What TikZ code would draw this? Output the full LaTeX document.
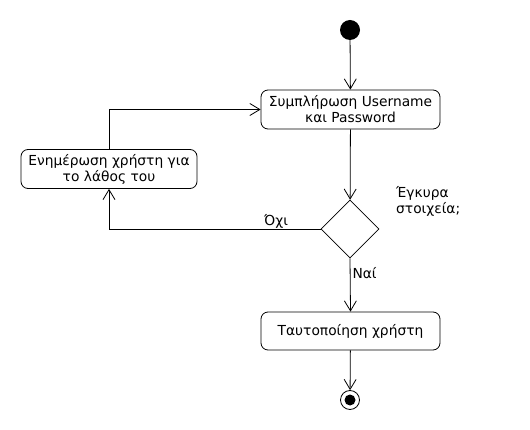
\documentclass[tikz,border=0pt]{standalone}
\usepackage{fontspec}
\setmainfont{DejaVu Sans}
\usetikzlibrary{positioning, arrows.meta, shapes.geometric}
\tikzset{
  act/.style={draw, rounded corners=7pt, line width=0.8pt,
    minimum width=179pt, minimum height=39pt, align=center,
    inner sep=2pt, font=\fontsize{13.8}{16}\selectfont},
  dec/.style={draw, diamond, line width=0.8pt, inner sep=0pt,
    minimum width=58pt, minimum height=58pt},
  lbl/.style={font=\fontsize{13.8}{16}\selectfont, inner sep=1pt},
  a/.style={-{Straight Barb[length=10pt,width=12pt,line width=0.8pt]}, line width=0.8pt}
}
\begin{document}
\begin{tikzpicture}[x=1pt, y=-1pt]
\useasboundingbox (0,0) rectangle (530,430);

% start / end
\node[circle, fill=black, inner sep=0pt, minimum size=20pt] (start) at (350,30) {};
\node[circle, draw, line width=0.8pt, inner sep=0pt, minimum size=19pt] (stop) at (350,400) {};
\node[circle, fill=black, inner sep=0pt, minimum size=11pt] (stopin) at (350,400) {};

% activities
\node[act] (fill) at (350.5,109.5) {Συμπλήρωση Username\\και Password};
\node[act, minimum width=176pt] (warn) at (109,169) {Ενημέρωση χρήστη για\\το λάθος του};
\node[dec] (check) at (350,229) {};
\node[act, minimum height=38pt] (auth) at (350.5,331) {Ταυτοποίηση χρήστη};

\node[lbl, align=left, anchor=north west] (qtxt) at (395,185) {Έγκυρα\\στοιχεία;};

% flow
\draw[a] (start) -- (fill);
\draw[a] (fill) -- (check);
\draw[a] (check.west) -| (warn.south)
  node[pos=0.105, lbl, above=-1pt] {Όχι};
\draw[a] (warn.north) |- (fill.west);
\draw[a] (check.south) -- (auth.north)
  node[pos=0.27, lbl, right=1pt] {Ναί};
\draw[a] (auth) -- (stop);

\end{tikzpicture}
\end{document}
